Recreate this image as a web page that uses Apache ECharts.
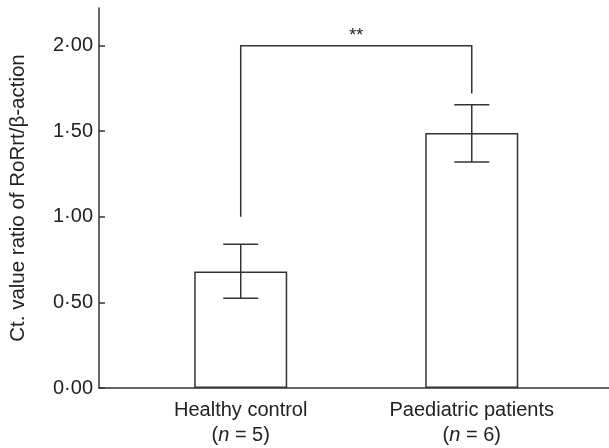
<!DOCTYPE html>
<html>
<head>
<meta charset="utf-8">
<script src="https://cdn.jsdelivr.net/npm/echarts@6/dist/echarts.min.js"></script>
<style>
html,body{margin:0;padding:0;background:#fff;}
#chart{width:609px;height:448px;}
</style>
</head>
<body>
<div id="chart"></div>
<script>
// ---- data ----
var categories = ['Healthy control', 'Paediatric patients'];
var sampleSizes = [5, 6];
var means = [0.68, 1.49];
var errLow = [0.525, 1.32];
var errHigh = [0.84, 1.655];
var yTicks = [0, 0.5, 1.0, 1.5, 2.0];
var sigLabel = '**';
var sigTop = 2.0;
var sigLeftBottom = 1.0;
var sigRightBottom = 1.72;

var FONT = '"Liberation Sans", Arial, Helvetica, sans-serif';
var LINE = '#333';

var xIdx = categories.map(function (c, i) { return i; });
var barData = means.map(function (v, i) { return [i, v]; });
var errData = means.map(function (v, i) { return [i, errLow[i], errHigh[i]]; });

var chart = echarts.init(document.getElementById('chart'), null, {renderer: 'canvas'});

chart.setOption({
  animation: false,
  backgroundColor: '#fff',
  grid: {left: 98, right: 0, top: 8, bottom: 58, containLabel: false},
  xAxis: {
    type: 'value',
    min: -0.6134,
    max: 1.594,
    axisLine: {show: true, onZero: false, lineStyle: {color: LINE, width: 1.5}},
    axisTick: {show: false},
    splitLine: {show: false},
    axisLabel: {
      customValues: xIdx,
      margin: 10,
      formatter: function (v) {
        var i = Math.round(v);
        return categories[i] + '\n{p|(}{i|n}{p| = ' + sampleSizes[i] + ')}';
      },
      color: '#222',
      fontFamily: FONT,
      fontSize: 20,
      lineHeight: 25,
      align: 'center',
      rich: {
        p: {fontFamily: FONT, fontSize: 20, color: '#222', lineHeight: 25},
        i: {fontFamily: FONT, fontSize: 20, color: '#222', fontStyle: 'italic', lineHeight: 25}
      }
    }
  },
  yAxis: {
    type: 'value',
    min: 0,
    max: 2.22,
    name: 'Ct. value ratio of RoRrt/β-action',
    nameLocation: 'middle',
    nameGap: 70,
    nameTextStyle: {fontFamily: FONT, fontSize: 20.5, color: '#222'},
    axisLine: {show: true, onZero: false, lineStyle: {color: LINE, width: 1.5}},
    axisTick: {show: true, inside: true, length: 6, customValues: yTicks, lineStyle: {color: LINE, width: 1.5}},
    splitLine: {show: false},
    axisLabel: {
      customValues: yTicks,
      margin: 6,
      color: '#222',
      fontFamily: FONT,
      fontSize: 20,
      formatter: function (v) { return v.toFixed(2).replace('.', '\u00B7'); }
    }
  },
  series: [
    {
      type: 'bar',
      data: barData,
      barWidth: 93,
      itemStyle: {color: '#fff', borderColor: LINE, borderWidth: 1.5},
      z: 2
    },
    {
      type: 'custom',
      data: errData,
      z: 3,
      renderItem: function (params, api) {
        var x = api.value(0);
        var lo = api.coord([x, api.value(1)]);
        var hi = api.coord([x, api.value(2)]);
        var capL = api.coord([x - 0.0756, 0])[0];
        var capR = api.coord([x + 0.0756, 0])[0];
        var st = {stroke: LINE, lineWidth: 1.5, fill: null};
        return {
          type: 'group',
          children: [
            {type: 'line', shape: {x1: lo[0], y1: lo[1], x2: hi[0], y2: hi[1]}, style: st},
            {type: 'line', shape: {x1: capL, y1: lo[1], x2: capR, y2: lo[1]}, style: st},
            {type: 'line', shape: {x1: capL, y1: hi[1], x2: capR, y2: hi[1]}, style: st}
          ]
        };
      }
    },
    {
      type: 'custom',
      data: [[0, 1, sigLeftBottom, sigRightBottom, sigTop]],
      z: 3,
      clip: false,
      renderItem: function (params, api) {
        var a = api.coord([api.value(0), api.value(2)]);
        var b = api.coord([api.value(1), api.value(3)]);
        var ta = api.coord([api.value(0), api.value(4)]);
        var tb = api.coord([api.value(1), api.value(4)]);
        var st = {stroke: LINE, lineWidth: 1.5, fill: null};
        return {
          type: 'group',
          children: [
            {type: 'polyline', shape: {points: [a, ta, tb, b]}, style: st},
            {type: 'text', style: {
              text: sigLabel, x: (ta[0] + tb[0]) / 2, y: ta[1] - 10,
              align: 'center', verticalAlign: 'middle',
              fontFamily: FONT, fontSize: 18, fill: '#222'
            }}
          ]
        };
      }
    }
  ]
});
</script>
</body>
</html>
